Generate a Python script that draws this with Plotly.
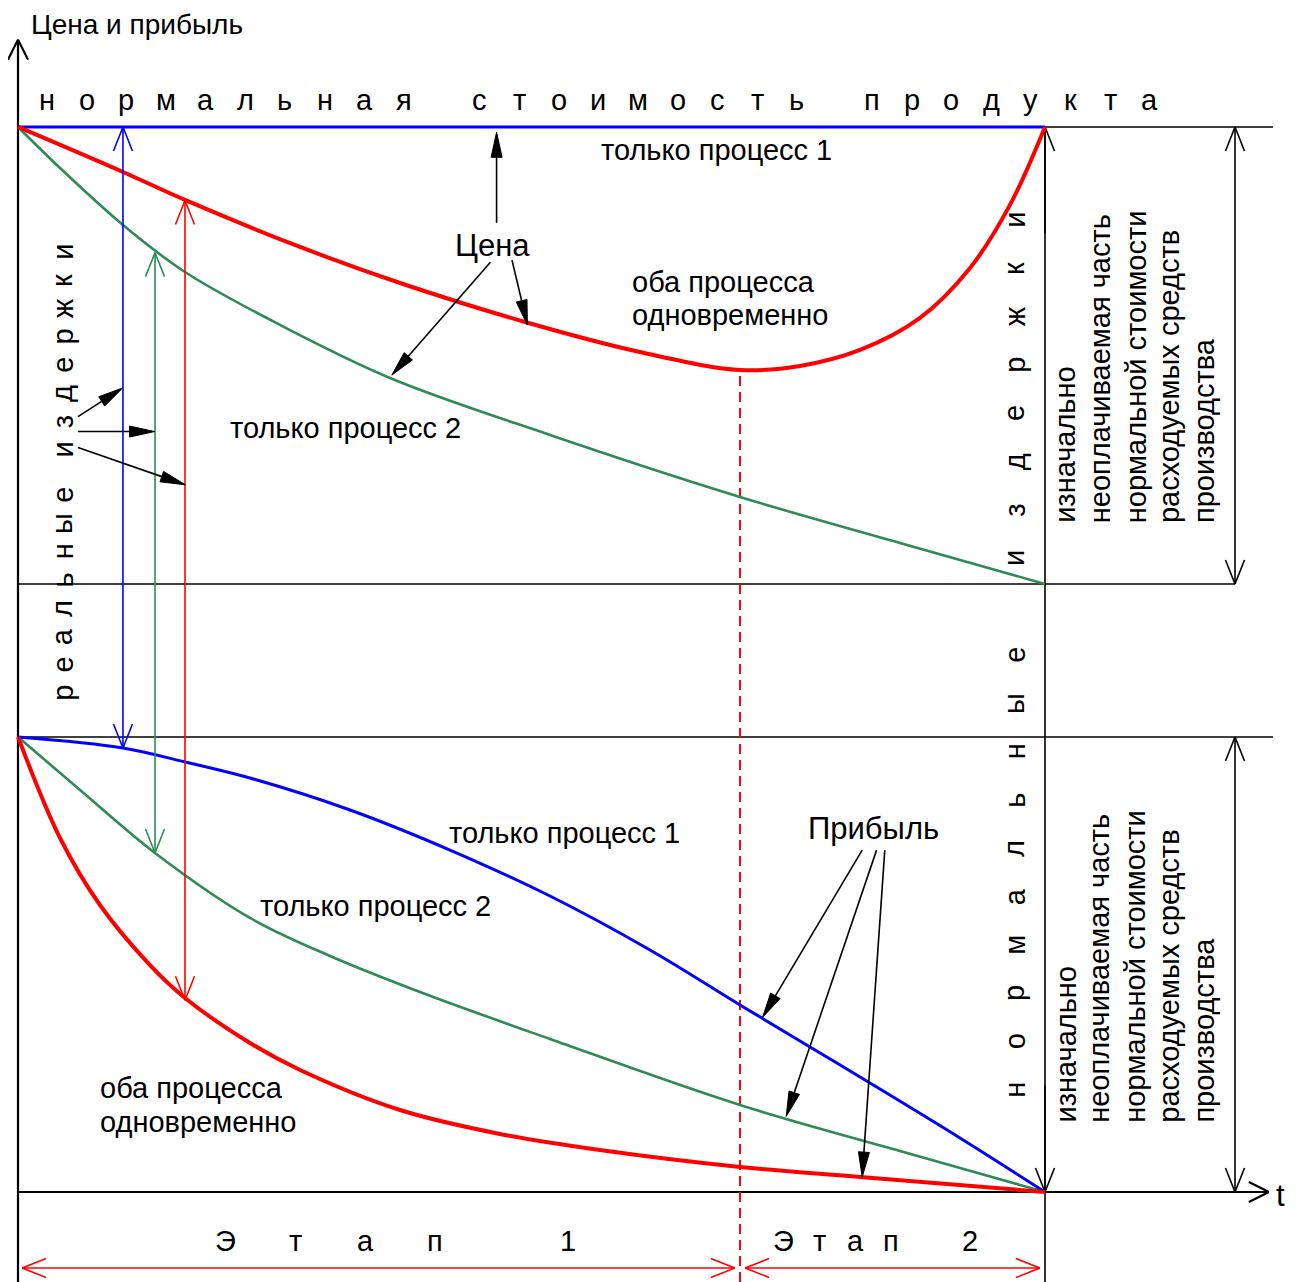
import plotly.graph_objects as go

# ---------------- data (t: time 0..100, v: value, normal cost = 100) ----------------
price_p1_t = [0, 100]
price_p1_v = [100, 100]
price_both_t = [0, 10.22, 16.26, 27.46, 37.20, 49.37, 60.56, 70.30, 76.14, 81.99, 87.83, 92.70, 96.59, 100]
price_both_v = [100, 95.77, 93.15, 88.73, 85.35, 81.69, 78.87, 77.18, 77.56, 79.06, 82.07, 86.76, 92.68, 100]
price_p2_t = [0, 4.09, 10.22, 16.26, 25.51, 36.22, 51.80, 70.30, 85.88, 100]
price_p2_v = [100, 96.15, 90.80, 86.38, 81.41, 76.43, 71.08, 65.26, 60.94, 57.09]

profit_p1_t = [0, 10.22, 16.26, 22.59, 32.33, 42.06, 51.80, 61.54, 70.30, 77.12, 82.96, 91.72, 100]
profit_p1_v = [42.72, 41.69, 40.38, 38.87, 35.87, 32.11, 27.79, 22.72, 17.56, 13.62, 10.23, 5.07, 0]
profit_p2_t = [0, 6.04, 13.34, 22.59, 30.38, 39.14, 51.80, 70.30, 85.88, 100]
profit_p2_v = [42.72, 37.75, 31.83, 25.73, 22.16, 18.78, 14.37, 8.17, 3.85, 0]
profit_both_t = [0, 4.09, 7.98, 12.85, 16.26, 22.59, 27.46, 37.20, 46.93, 56.67, 70.30, 81.99, 100]
profit_both_v = [42.72, 33.24, 26.95, 21.31, 18.22, 13.99, 11.46, 7.70, 5.45, 3.94, 2.35, 1.41, 0]

NORMAL_COST = 100.0      # нормальная стоимость продукта
REAL_COST_END = 57.09    # конечная цена (только процесс 2)
NORMAL_PROFIT = 42.72    # начальная прибыль
T_END = 100.0            # конец этапа 2
T_STAGE = 70.30          # граница этапов (минимум цены)

# ---------------- layout helpers ----------------
W, H = 1288, 1274
X_RANGE = [-0.974, 124.44]
Y_RANGE = [-8.451, 111.17]
SX = W / (X_RANGE[1] - X_RANGE[0])
SY = H / (Y_RANGE[1] - Y_RANGE[0])

RED = '#ff0000'
BLUE = '#0000ff'
GREEN = '#2e8b57'
BLACK = '#000000'
FONT = 'Liberation Sans, Arial, sans-serif'
FS = 29

fig = go.Figure()


def lines(segs, color, width, dash=None):
    xs, ys = [], []
    for (x0, y0, x1, y1) in segs:
        xs += [x0, x1, None]
        ys += [y0, y1, None]
    fig.add_trace(go.Scatter(x=xs, y=ys, mode='lines', hoverinfo='skip', showlegend=False,
                             line=dict(color=color, width=width, dash=dash)))


def head(tail, tip, length, half):
    dx = (tip[0] - tail[0]) * SX
    dy = (tip[1] - tail[1]) * SY
    n = (dx * dx + dy * dy) ** 0.5
    ux, uy = dx / n, dy / n
    px, py = -uy, ux
    a = (tip[0] + (-ux * length + px * half) / SX, tip[1] + (-uy * length + py * half) / SY)
    b = (tip[0] + (-ux * length - px * half) / SX, tip[1] + (-uy * length - py * half) / SY)
    return a, b


def open_arrow(tail, tip, color, width, both=False, length=24, half=9.5):
    segs = [(tail[0], tail[1], tip[0], tip[1])]
    ends = [(tail, tip)] + ([(tip, tail)] if both else [])
    for tl, tp in ends:
        a, b = head(tl, tp, length, half)
        segs.append((a[0], a[1], tp[0], tp[1]))
        segs.append((tp[0], tp[1], b[0], b[1]))
    lines(segs, color, width)


def filled_arrow(tail, tip, width=1.6, length=25, half=5.5):
    a, b = head(tail, tip, length, half)
    mid = ((a[0] + b[0]) / 2, (a[1] + b[1]) / 2)
    lines([(tail[0], tail[1], mid[0], mid[1])], BLACK, width)
    fig.add_trace(go.Scatter(x=[a[0], tip[0], b[0], a[0]], y=[a[1], tip[1], b[1], a[1]],
                             mode='lines', fill='toself', fillcolor=BLACK, hoverinfo='skip',
                             line=dict(color=BLACK, width=1), showlegend=False))


def curve(t, v, color, width):
    fig.add_trace(go.Scatter(x=t, y=v, mode='lines', hoverinfo='skip', showlegend=False,
                             line=dict(color=color, width=width, shape='spline', smoothing=1.0)))


def label(text, x, y, size=FS, xanchor='center', yanchor='middle', angle=0, align='left'):
    fig.add_annotation(x=x, y=y, text=text, showarrow=False, xanchor=xanchor, yanchor=yanchor,
                       textangle=angle, align=align,
                       font=dict(family=FONT, size=size, color=BLACK))


def spaced(text, start, end, fixed, vertical=False, space=1.0, size=FS):
    units, pos = 0.0, []
    for i, ch in enumerate(text):
        if i > 0:
            units += space if ch == ' ' else 1.0
        pos.append(units)
    for ch, u in zip(text, pos):
        if ch == ' ':
            continue
        c = start + (end - start) * u / units
        if vertical:
            label(ch, fixed, c, size=size, angle=-90)
        else:
            label(ch, c, fixed, size=size)


# ---------------- structure ----------------
lines([(0, NORMAL_COST, 122.2, NORMAL_COST),
       (0, REAL_COST_END, 118.5, REAL_COST_END),
       (0, NORMAL_PROFIT, 122.2, NORMAL_PROFIT),
       (T_END, Y_RANGE[0], T_END, NORMAL_COST)], BLACK, 1.6)
open_arrow((0, Y_RANGE[0]), (0, 108.2), BLACK, 2.2, length=20, half=10)
open_arrow((0, 0), (121.8, 0), BLACK, 2.2, length=20, half=10)
# arrows on the t = end line
open_arrow((T_END, 90), (T_END, NORMAL_COST), BLACK, 1.6)
open_arrow((T_END, 10), (T_END, 0), BLACK, 1.6)
# right-side dimension arrows
open_arrow((118.5, REAL_COST_END), (118.5, NORMAL_COST), BLACK, 1.6, both=True)
open_arrow((118.5, 0), (118.5, NORMAL_PROFIT), BLACK, 1.6, both=True)

# dashed stage boundary
lines([(T_STAGE, Y_RANGE[0], T_STAGE, 77.2)], RED, 2, dash='10px,6px')

# stage arrows
open_arrow((0.4, -7.14), (69.8, -7.14), RED, 1.6, both=True)
open_arrow((70.8, -7.14), (99.5, -7.14), RED, 1.6, both=True)

# ---------------- curves ----------------
curve(price_p2_t, price_p2_v, GREEN, 2.6)
curve(price_p1_t, price_p1_v, BLUE, 3)
curve(price_both_t, price_both_v, RED, 4)
curve(profit_p2_t, profit_p2_v, GREEN, 2.6)
curve(profit_p1_t, profit_p1_v, BLUE, 3)
curve(profit_both_t, profit_both_v, RED, 4)

# real cost dimension arrows (price -> profit)
open_arrow((10.22, 41.69), (10.22, 100), BLUE, 1.6, both=True)
open_arrow((13.34, 31.83), (13.34, 88.2), GREEN, 1.6, both=True)
open_arrow((16.26, 18.0), (16.26, 93.1), RED, 1.6, both=True)

# pointer arrows
for tail, tip in [((46.6, 91.0), (46.6, 99.5)),
                  ((48.1, 87.5), (49.6, 81.4)),
                  ((46.0, 87.3), (36.4, 76.7)),
                  ((5.84, 72.8), (10.2, 75.5)),
                  ((5.84, 71.4), (13.3, 71.4)),
                  ((5.84, 69.9), (16.3, 66.4)),
                  ((82.2, 32.1), (72.5, 16.4)),
                  ((83.6, 32.1), (74.8, 7.1)),
                  ((84.4, 32.1), (82.2, 1.4))]:
    filled_arrow(tail, tip)

# ---------------- text ----------------
label('Цена и прибыль', 1.1, 109.6, size=28, xanchor='left')
spaced('нормальная стоимость продукта', 2.82, 110.2, 102.5, space=0.9)
label('только процесс 1', 67.97, 97.85)
label('Цена', 46.25, 88.9, size=31)
label('оба процесса', 59.6, 85.4, xanchor='left')
label('одновременно', 59.6, 82.3, xanchor='left')
label('только процесс 2', 20.45, 71.75, xanchor='left')
label('только процесс 1', 41.8, 33.7, xanchor='left')
label('Прибыль', 76.7, 34.15, xanchor='left', size=31)
label('только процесс 2', 23.4, 26.9, xanchor='left')
label('оба процесса', 7.8, 9.8, xanchor='left')
label('одновременно', 7.8, 6.6, xanchor='left')
label('t', 122.95, -0.3, size=31, xanchor='center')

spaced('реальные издержки', 46.85, 88.26, 4.35, vertical=True, space=0.6)
spaced('нормальные издержки', 9.58, 91.27, 97.05, vertical=True, space=1.0)

spaced('Этап 1', 20.16, 53.55, -4.6, space=0.9)
spaced('Этап 2', 74.5, 92.7, -4.6, space=1.2)

block = ['изначально', 'неоплачиваемая часть', 'нормальной стоимости',
         'расходуемых средств', 'производства']
block_x = [102.0, 105.3, 108.8, 112.1, 115.5]
for line_text, bx in zip(block, block_x):
    label(line_text, bx, 62.6, angle=-90, yanchor='bottom')
    label(line_text, bx, 6.3, angle=-90, yanchor='bottom')

fig.update_layout(width=W, height=H, margin=dict(l=0, r=0, t=0, b=0), autosize=False,
                  paper_bgcolor='white', plot_bgcolor='white', showlegend=False,
                  xaxis=dict(range=X_RANGE, visible=False, fixedrange=True),
                  yaxis=dict(range=Y_RANGE, visible=False, fixedrange=True))

fig.write_html("out.html")
